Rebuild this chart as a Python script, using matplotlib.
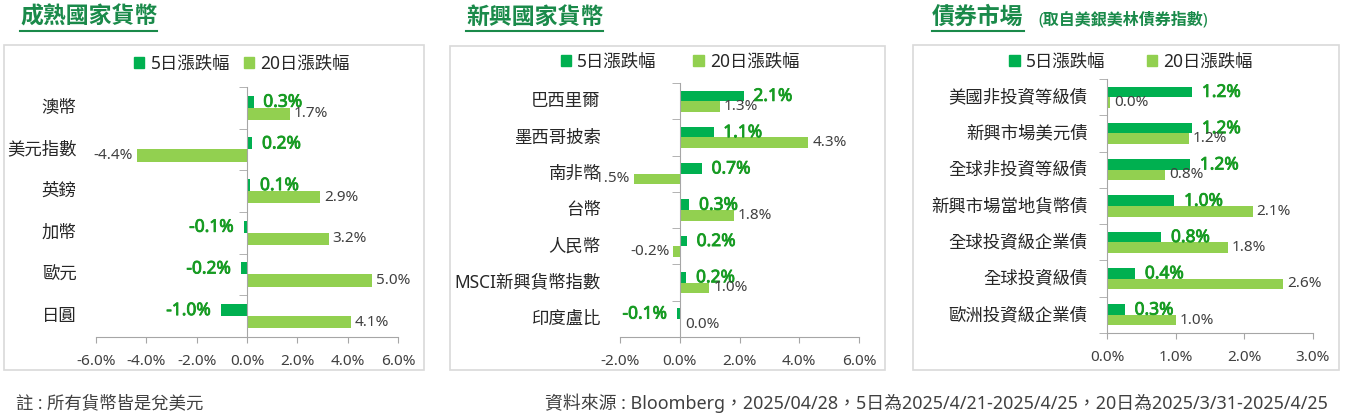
import numpy as np
import matplotlib
matplotlib.use("Agg")
import matplotlib.pyplot as plt
import matplotlib.patheffects as pe
from matplotlib.patches import Patch, Rectangle
from matplotlib.lines import Line2D

# latin glyphs from Noto Sans, CJK glyphs fall back to the CJK family
plt.rcParams['font.family'] = ['Noto Sans', 'Noto Sans CJK TC', 'DejaVu Sans']

DARK = '#00B050'
LIGHT = '#92D050'
TITLE_C = '#1A8A4A'
LBL5_C = '#169B22'
TXT_C = '#404040'
AXIS_C = '#A6A6A6'

################################################################################
# data (top to bottom)
dev_cats = ['澳幣', '美元指數', '英鎊', '加幣', '歐元', '日圓']
dev_5d = [0.26, 0.21, 0.13, -0.13, -0.24, -1.04]
dev_20d = [1.69, -4.38, 2.89, 3.24, 4.95, 4.12]
dev_ticks = [-6, -4, -2, 0, 2, 4, 6]

em_cats = ['巴西里爾', '墨西哥披索', '南非幣', '台幣', '人民幣', 'MSCI新興貨幣指數', '印度盧比']
em_5d = [2.14, 1.13, 0.74, 0.32, 0.24, 0.22, -0.09]
em_20d = [1.34, 4.30, -1.52, 1.80, -0.21, 0.99, 0.04]
em_ticks = [-2, 0, 2, 4, 6]

bond_cats = ['美國非投資等級債', '新興市場美元債', '全球非投資等級債', '新興市場當地貨幣債',
             '全球投資級企業債', '全球投資級債', '歐洲投資級企業債']
bond_5d = [1.24, 1.24, 1.21, 0.98, 0.79, 0.41, 0.26]
bond_20d = [0.04, 1.19, 0.84, 2.12, 1.76, 2.57, 1.00]
bond_ticks = [0, 1, 2, 3]

LEG_5 = '5日漲跌幅'
LEG_20 = '20日漲跌幅'

################################################################################
W, H = 1345, 415
fig = plt.figure(figsize=(W / 100, H / 100), dpi=100)


def px(x0, y0, x1, y1):
    # pixel box (top-left origin) -> figure fraction rect
    return [x0 / W, 1 - y1 / H, (x1 - x0) / W, (y1 - y0) / H]


def panel(rect, box, cats, v5, v20, ticks, leg_c, colsp):
    # grey frame around the panel
    bx = px(*box)
    fig.patches.append(Rectangle((bx[0], bx[1]), bx[2], bx[3], transform=fig.transFigure,
                                 fill=False, edgecolor='#D9D9D9', lw=1.2))
    ax = fig.add_axes(px(*rect))
    n = len(cats)
    y = np.arange(n)
    h = 0.29
    b5 = ax.barh(y - h / 2, v5, height=h, color=DARK)
    b20 = ax.barh(y + h / 2, v20, height=h, color=LIGHT)
    l5 = ax.bar_label(b5, fmt='{:.1f}%', padding=7, color=LBL5_C, fontsize=12.5)
    l20 = ax.bar_label(b20, fmt='{:.1f}%', padding=3, color=TXT_C, fontsize=11)
    for t in l5:
        # a bit heavier, like the semibold labels of the original
        t.set_path_effects([pe.withStroke(linewidth=0.6, foreground=LBL5_C)])
    for t in list(l5) + list(l20):
        t.set_zorder(6)
        t.set_clip_on(False)
    ax.set_ylim(n - 0.5, -0.5)
    ax.set_xlim(ticks[0], ticks[-1])
    ax.set_xticks(ticks)
    ax.set_xticklabels([f'{t:.1f}%' for t in ticks], color=TXT_C, fontsize=11)
    ax.tick_params(axis='x', length=4, color=AXIS_C, pad=8)
    ax.set_yticks([])
    ax.set_yticks(np.arange(n + 1) - 0.5, minor=True)
    ax.tick_params(axis='y', which='minor', length=6, color=AXIS_C, direction='out')
    ax.spines['left'].set_position(('data', 0))
    for s in ['left', 'bottom']:
        ax.spines[s].set_color(AXIS_C)
    for s in ['top', 'right']:
        ax.spines[s].set_visible(False)
    for yi, c in zip(y, cats):
        ax.annotate(c, xy=(0, yi), xycoords=('axes fraction', 'data'), xytext=(-14, 0),
                    textcoords='offset points', ha='right', va='center',
                    fontsize=12.5, color='#262626', zorder=2)
    handles = [Patch(color=DARK, label=LEG_5), Patch(color=LIGHT, label=LEG_20)]
    fig.legend(handles=handles, loc='center', bbox_to_anchor=(leg_c[0] / W, 1 - leg_c[1] / H),
               ncol=2, frameon=False, fontsize=12.5, handlelength=0.6, handleheight=0.6,
               handletextpad=0.35, columnspacing=colsp, labelcolor='#262626')
    return ax


panel((96, 87, 398, 337), (4, 45, 424, 370), dev_cats, dev_5d, dev_20d, dev_ticks,
      (242, 64), 0.8)
panel((620, 83, 859, 337), (450, 46, 885, 370), em_cats, em_5d, em_20d, em_ticks,
      (680, 62), 2.1)
panel((1107, 79, 1313, 333), (913, 45, 1339, 370), bond_cats, bond_5d, bond_20d, bond_ticks,
      (1131, 62), 2.4)

# panel titles with underline
titles = [('成熟國家貨幣', 20), ('新興國家貨幣', 466), ('債券市場', 932)]
ttl = []
for t, x in titles:
    ttl.append(fig.text(x / W, 1 - 18 / H, t, fontsize=16.5, fontweight='bold',
                        color=TITLE_C, ha='left', va='center'))
fig.text(1038 / W, 1 - 20 / H, '(取自美銀美林債券指數)', fontsize=11.5, fontweight='bold',
         color=TITLE_C, ha='left', va='center')

# footer
fig.text(16 / W, 1 - 403 / H, '註 : 所有貨幣皆是兌美元', fontsize=12.5, color=TXT_C,
         ha='left', va='center')
fig.text(1328 / W, 1 - 403 / H,
         '資料來源 : Bloomberg，2025/04/28，5日為2025/4/21-2025/4/25，20日為2025/3/31-2025/4/25',
         fontsize=12.9, color=TXT_C, ha='right', va='center')

fig.canvas.draw()
r = fig.canvas.get_renderer()
for t in ttl:
    bb = t.get_window_extent(r)
    yline = 1 - 31 / H
    fig.lines.append(Line2D([bb.x0 / W, bb.x1 / W], [yline, yline], transform=fig.transFigure,
                            color=TITLE_C, lw=1.5))

fig.savefig('out.png', dpi=100)
